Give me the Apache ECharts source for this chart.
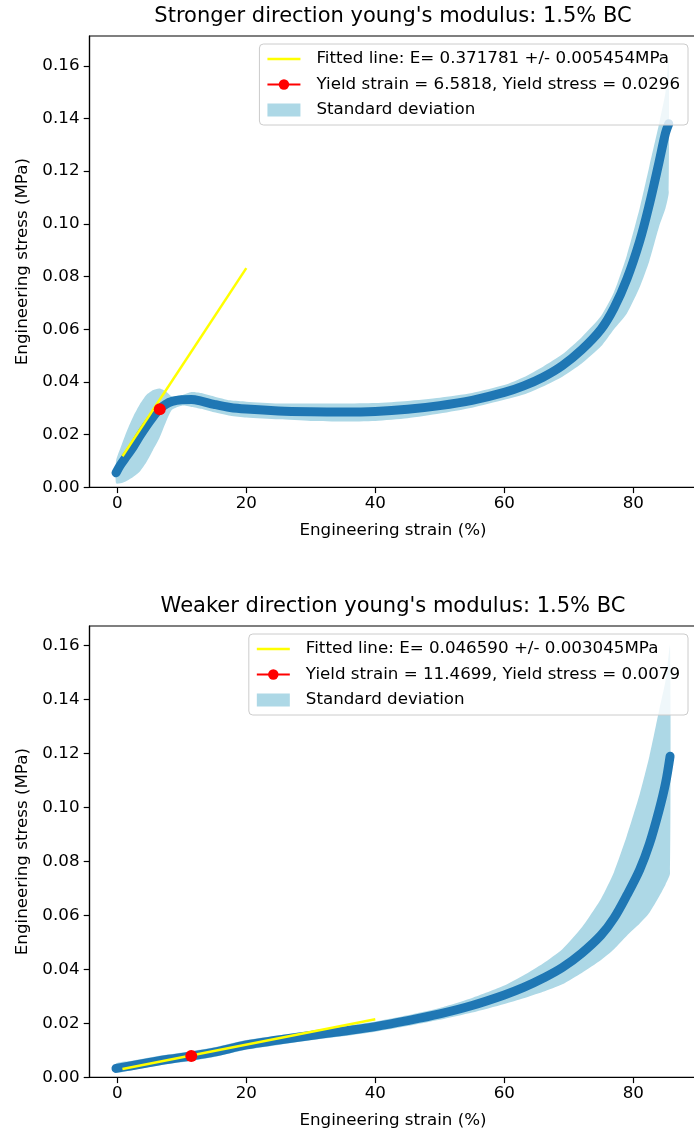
<!DOCTYPE html>
<html>
<head>
<meta charset="utf-8">
<script src="https://cdn.jsdelivr.net/npm/echarts@6/dist/echarts.min.js"></script>
<style>
  html, body { margin: 0; padding: 0; background: #fff; }
  #chart { width: 694px; height: 1133px; }
</style>
</head>
<body>
<div id="chart"></div>
<script>
// ---- Stronger direction: mean curve and standard deviation envelope ----
const strongStrain = [-0.2, 0.5, 1.5, 2.5, 3.5, 4.5, 5.5, 6.5, 7.5, 8.5, 10, 11.5, 13, 15, 17.5, 20, 25, 30, 35, 40, 45, 50, 55, 60, 63, 66, 69, 72, 75, 77, 79, 81, 82.5, 84, 85, 85.5];
const strongMean   = [0.0055, 0.0085, 0.0120, 0.0155, 0.0195, 0.0232, 0.0266, 0.0296, 0.0315, 0.0326, 0.0332, 0.0333, 0.0327, 0.0315, 0.0303, 0.0297, 0.0290, 0.0287, 0.0286, 0.0288, 0.0296, 0.0310, 0.0330, 0.0360, 0.0385, 0.0418, 0.0462, 0.0522, 0.0600, 0.0680, 0.0790, 0.0935, 0.1075, 0.1235, 0.1345, 0.1380];
const strongUpper  = [0.0100, 0.0150, 0.0215, 0.0270, 0.0315, 0.0350, 0.0368, 0.0375, 0.0365, 0.0345, 0.0350, 0.0362, 0.0358, 0.0345, 0.0330, 0.0325, 0.0318, 0.0318, 0.0318, 0.0320, 0.0328, 0.0340, 0.0358, 0.0388, 0.0418, 0.0458, 0.0505, 0.0570, 0.0650, 0.0740, 0.0880, 0.1060, 0.1220, 0.1380, 0.1500, 0.1630];
const strongLower  = [0.0015, 0.0015, 0.0025, 0.0040, 0.0060, 0.0095, 0.0140, 0.0185, 0.0245, 0.0295, 0.0310, 0.0305, 0.0298, 0.0285, 0.0272, 0.0265, 0.0258, 0.0252, 0.0250, 0.0252, 0.0262, 0.0280, 0.0302, 0.0332, 0.0352, 0.0383, 0.0420, 0.0470, 0.0535, 0.0600, 0.0660, 0.0760, 0.0860, 0.0990, 0.1060, 0.1120];
const strongFitStrain = [0.8, 20];
const strongFitStress = [0.0118, 0.0832];
const strongYieldStrain = 6.5818;
const strongYieldStress = 0.0296;

// ---- Weaker direction ----
const weakStrain = [-0.2, 2, 5, 8, 11.5, 15, 20, 25, 30, 35, 40, 45, 50, 55, 60, 63, 66, 69, 72, 75, 77, 79, 81, 82.5, 84, 85, 85.7];
const weakMean   = [0.0033, 0.0042, 0.0055, 0.0067, 0.0079, 0.0093, 0.0120, 0.0138, 0.0155, 0.0171, 0.0188, 0.0210, 0.0235, 0.0266, 0.0305, 0.0333, 0.0367, 0.0407, 0.0460, 0.0527, 0.0590, 0.0675, 0.0770, 0.0865, 0.0990, 0.1090, 0.1190];
const weakUpper  = [0.0051, 0.0060, 0.0073, 0.0085, 0.0097, 0.0111, 0.0138, 0.0156, 0.0173, 0.0190, 0.0207, 0.0230, 0.0257, 0.0294, 0.0340, 0.0378, 0.0422, 0.0475, 0.0555, 0.0662, 0.0760, 0.0895, 0.1050, 0.1190, 0.1360, 0.1470, 0.1600];
const weakLower  = [0.0017, 0.0025, 0.0038, 0.0049, 0.0061, 0.0075, 0.0102, 0.0120, 0.0137, 0.0152, 0.0169, 0.0190, 0.0213, 0.0240, 0.0272, 0.0293, 0.0317, 0.0345, 0.0387, 0.0435, 0.0475, 0.0525, 0.0570, 0.0610, 0.0670, 0.0715, 0.0756];
const weakFitStrain = [0.8, 40];
const weakFitStress = [0.0031, 0.0215];
const weakYieldStrain = 11.4699;
const weakYieldStress = 0.0079;

// ---- Axis ticks and labels ----
const xTicks = [0, 20, 40, 60, 80];
const yTicks = [0, 0.02, 0.04, 0.06, 0.08, 0.10, 0.12, 0.14, 0.16];

const titles = ["Stronger direction young's modulus: 1.5% BC", "Weaker direction young's modulus: 1.5% BC"];
const fitNames = ['Fitted line: E= 0.371781 +/- 0.005454MPa', 'Fitted line: E= 0.046590 +/- 0.003045MPa'];
const yieldNames = ['Yield strain = 6.5818, Yield stress = 0.0296', 'Yield strain = 11.4699, Yield stress = 0.0079'];
const bandName = 'Standard deviation';
const xName = 'Engineering strain (%)';
const yName = 'Engineering stress (MPa)';

const FONT = 'DejaVu Sans';
const FS = 16.7;
const BLUE = '#1f77b4';
const LIGHT = '#add8e6';
// legend handle: a thin horizontal bar centred in a 33x13 box (outer sub-paths only fix the bounds)
const LINE_ICON = 'path://M0,0L33,0L33,0Z M0,5.25L33,5.25L33,7.75L0,7.75Z M0,13L33,13L33,13Z';

const zip = (a, b) => a.map((v, i) => [v, b[i]]);

const grids = [
  { left: 89.5, top: 36, width: 607, height: 451.3, yMax: 0.1713 },
  { left: 89.5, top: 626, width: 607, height: 451.3, yMax: 0.1673 }
];

function xAxisCfg(gi) {
  return {
    type: 'value', gridIndex: gi, min: -4.31, max: 89.8,
    name: xName, nameLocation: 'middle', nameGap: 35,
    nameTextStyle: { fontFamily: FONT, fontSize: FS, color: '#000' },
    axisLine: { show: true, onZero: false, lineStyle: { color: '#000', width: 1.2 } },
    axisTick: { show: true, customValues: xTicks, length: 5.8, lineStyle: { color: '#000', width: 1.2 } },
    axisLabel: { customValues: xTicks, margin: 8, fontFamily: FONT, fontSize: FS, color: '#000' },
    splitLine: { show: false }
  };
}

function yAxisCfg(gi) {
  return {
    type: 'value', gridIndex: gi, min: 0, max: grids[gi].yMax,
    name: yName, nameLocation: 'middle', nameGap: 58, nameRotate: 90,
    nameTextStyle: { fontFamily: FONT, fontSize: FS, color: '#000' },
    axisLine: { show: true, onZero: false, lineStyle: { color: '#000', width: 1.2 } },
    axisTick: { show: true, customValues: yTicks, length: 5.8, lineStyle: { color: '#000', width: 1.2 } },
    axisLabel: { customValues: yTicks, margin: 10, fontFamily: FONT, fontSize: FS, color: '#000',
      formatter: v => v.toFixed(2) },
    splitLine: { show: false }
  };
}

function bandSeries(gi, xs, up, lo) {
  return {
    type: 'custom', name: bandName, xAxisIndex: gi, yAxisIndex: gi,
    itemStyle: { color: LIGHT },
    data: [[xs[0], lo[0]]],
    z: 1,
    renderItem: (params, api) => {
      const pts = [];
      for (let i = 0; i < xs.length; i++) pts.push(api.coord([xs[i], up[i]]));
      for (let i = xs.length - 1; i >= 0; i--) pts.push(api.coord([xs[i], lo[i]]));
      return { type: 'polygon', shape: { points: pts, smooth: 0.2 }, style: { fill: LIGHT } };
    }
  };
}

function panelSeries(gi, xs, mean, up, lo, fx, fy, yx, yy) {
  return [
    bandSeries(gi, xs, up, lo),
    {
      type: 'line', name: 'mean', xAxisIndex: gi, yAxisIndex: gi,
      data: zip(xs, mean), symbol: 'none', smooth: 0.35,
      lineStyle: { color: BLUE, width: 9, cap: 'round', join: 'round' }, z: 2
    },
    {
      type: 'line', name: fitNames[gi], xAxisIndex: gi, yAxisIndex: gi,
      data: zip(fx, fy), symbol: 'none',
      itemStyle: { color: '#ffff00' },
      lineStyle: { color: '#ffff00', width: 2.5 }, z: 3
    },
    {
      type: 'line', name: yieldNames[gi], xAxisIndex: gi, yAxisIndex: gi,
      data: [[yx, yy]], symbol: 'circle', symbolSize: 12, showSymbol: true,
      itemStyle: { color: '#ff0000' },
      lineStyle: { color: '#ff0000', width: 2.5 }, z: 4
    }
  ];
}

function legendCfg(gi) {
  return {
    orient: 'vertical', right: 6, top: grids[gi].top + 8,
    itemWidth: 33, itemHeight: 13, itemGap: 7.5,
    padding: [6, 8, 6, 7],
    backgroundColor: 'rgba(255,255,255,0.8)',
    borderColor: '#cccccc', borderWidth: 1, borderRadius: 4,
    textStyle: { fontFamily: FONT, fontSize: FS, color: '#000', lineHeight: 18, padding: [0, 0, 0, 11] },
    data: [
      { name: fitNames[gi], icon: LINE_ICON, itemStyle: { color: '#ffff00' } },
      { name: yieldNames[gi] },
      { name: bandName, icon: 'rect', itemStyle: { color: LIGHT } }
    ]
  };
}

const chart = echarts.init(document.getElementById('chart'), null, { renderer: 'canvas' });

chart.setOption({
  animation: false,
  backgroundColor: '#fff',
  title: [
    { text: titles[0], left: 393, top: 6, textAlign: 'center', padding: 0,
      textStyle: { fontFamily: FONT, fontSize: 21, fontWeight: 'normal', color: '#000' } },
    { text: titles[1], left: 393, top: 596, textAlign: 'center', padding: 0,
      textStyle: { fontFamily: FONT, fontSize: 21, fontWeight: 'normal', color: '#000' } }
  ],
  legend: [legendCfg(0), legendCfg(1)],
  grid: grids.map(g => ({
    left: g.left, top: g.top, width: g.width, height: g.height,
    show: true, borderColor: '#000', borderWidth: 1.2, backgroundColor: 'transparent',
    containLabel: false, outerBoundsMode: 'none'
  })),
  xAxis: [xAxisCfg(0), xAxisCfg(1)],
  yAxis: [yAxisCfg(0), yAxisCfg(1)],
  series: [
    ...panelSeries(0, strongStrain, strongMean, strongUpper, strongLower,
      strongFitStrain, strongFitStress, strongYieldStrain, strongYieldStress),
    ...panelSeries(1, weakStrain, weakMean, weakUpper, weakLower,
      weakFitStrain, weakFitStress, weakYieldStrain, weakYieldStress)
  ]
});
</script>
</body>
</html>
